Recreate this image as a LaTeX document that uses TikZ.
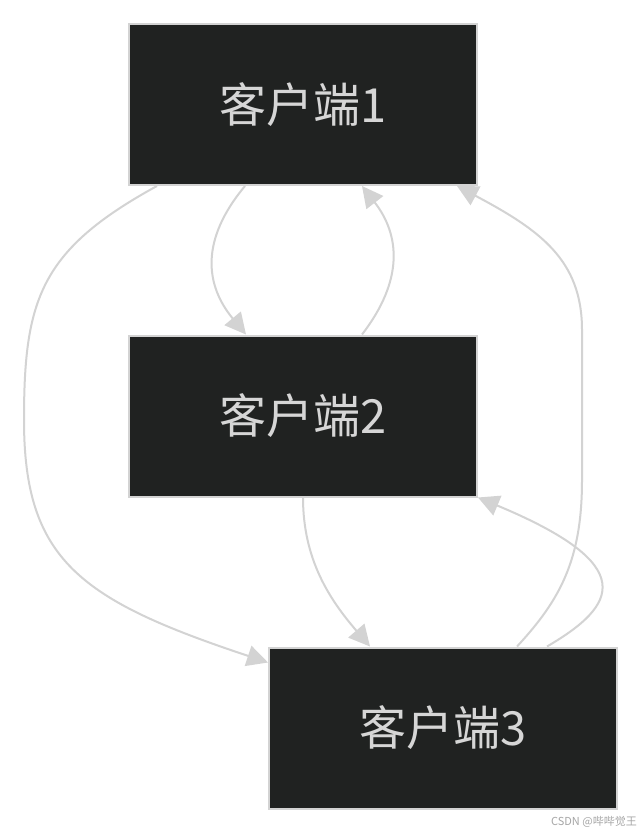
\documentclass[tikz,border=0pt]{standalone}
\usepackage{fontspec}
\newfontfamily\cjk{Noto Sans CJK SC}
\usetikzlibrary{arrows.meta}
\definecolor{boxfill}{HTML}{202221}
\definecolor{edgegray}{HTML}{D3D3D3}
\definecolor{txtgray}{HTML}{D6D6D6}
\tikzset{
  client/.style={draw=edgegray, fill=boxfill, line width=2pt, minimum width=348pt, minimum height=161pt, inner sep=0pt, text=txtgray, font=\cjk\fontsize{47}{47}\selectfont},
  link/.style={draw=edgegray, line width=2pt, -{Triangle[length=21pt,width=21pt]}},
}
\begin{document}
\begin{tikzpicture}[x=1pt,y=-1pt]
\useasboundingbox (0,0) rectangle (641,834);
\fill[white] (0,0) rectangle (641,834);
\node[client] (c1) at (303,104.5) {客户端1};
\node[client] (c2) at (303,416) {客户端2};
\node[client] (c3) at (443,728) {客户端3};
% 1 -> 2
\draw[link] ([xshift=-58pt]c1.south) .. controls (200,240) and (205,285) .. ([xshift=-57pt]c2.north);
% 2 -> 1
\draw[link] ([xshift=59pt]c2.north) .. controls (404,280) and (400,235) .. ([xshift=59pt]c1.south);
% 1 -> 3
\draw[link] ([xshift=-146pt]c1.south) .. controls (40,250) and (24,300) .. (24,420) .. controls (24,560) and (80,600) .. ([yshift=-16pt]c3.north west);
% 2 -> 3
\draw[link] (c2.south) .. controls (303,560) and (330,600) .. ([xshift=-73pt]c3.north);
% 3 -> 2
\draw[link] ([xshift=104pt]c3.north) .. controls (618,605) and (640,565) .. (c2.south east);
% 3 -> 1
\draw[link] ([xshift=74pt]c3.north) .. controls (560,600) and (582,560) .. (582,480) -- (582,330) .. controls (582,260) and (540,230) .. ([xshift=154pt]c1.south);
\node[anchor=east, text=gray!70, font=\cjk\fontsize{11}{11}\selectfont, inner sep=0pt] (wm) at (637,822) {CSDN @哔哔觉王};
\end{tikzpicture}
\end{document}
